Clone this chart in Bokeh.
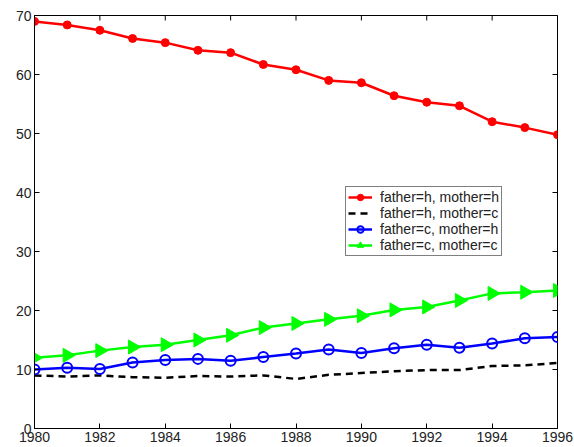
from bokeh.plotting import figure
from bokeh.models import LinearAxis, FixedTicker, Range1d
from bokeh.embed import file_html
from bokeh.resources import INLINE
import math

years = list(range(1980, 1997))
hh = [69.0, 68.4, 67.5, 66.1, 65.4, 64.1, 63.7, 61.7, 60.8, 59.0, 58.6, 56.4, 55.3, 54.7, 52.0, 51.0, 49.8]
hc = [9.0, 8.8, 9.0, 8.7, 8.6, 8.9, 8.8, 9.0, 8.4, 9.1, 9.4, 9.7, 9.9, 9.9, 10.6, 10.7, 11.1]
ch = [10.0, 10.3, 10.1, 11.2, 11.6, 11.8, 11.5, 12.1, 12.7, 13.4, 12.8, 13.6, 14.2, 13.7, 14.4, 15.3, 15.5]
cc = [12.0, 12.4, 13.2, 13.8, 14.2, 15.0, 15.8, 17.1, 17.8, 18.5, 19.1, 20.1, 20.6, 21.7, 22.9, 23.1, 23.4]
labels = ["father=h, mother=h", "father=h, mother=c", "father=c, mother=h", "father=c, mother=c"]
xticks = list(range(1980, 1997, 2))
yticks = list(range(0, 71, 10))
x_min, x_max = 1980, 1996
y_min, y_max = 0, 70

FONT = "Liberation Sans"
FS = "14px"

p = figure(width=574, height=447, x_range=Range1d(x_min, x_max), y_range=Range1d(y_min, y_max),
           output_backend="svg", toolbar_location=None,
           min_border_left=34, min_border_right=17, min_border_top=15, min_border_bottom=19,
           x_axis_location=None, y_axis_location=None)
p.xgrid.visible = False
p.ygrid.visible = False
p.outline_line_color = "black"
p.outline_line_width = 1
p.background_fill_color = "white"
p.border_fill_color = "white"

def mk_axis(ticks):
    ax = LinearAxis(ticker=FixedTicker(ticks=ticks))
    ax.major_tick_in = 5
    ax.major_tick_out = 0
    ax.minor_tick_in = 0
    ax.minor_tick_out = 0
    ax.axis_line_color = "black"
    ax.major_tick_line_color = "black"
    ax.major_label_text_font = FONT
    ax.major_label_text_color = "#222222"
    ax.major_label_text_font_size = FS
    ax.major_label_standoff = 3
    return ax

p.add_layout(mk_axis(xticks), "below")
p.add_layout(mk_axis(yticks), "left")

# mirrored inward ticks on top and right edges (clipped half of a dash marker)
p.scatter([x_max] * len(yticks), yticks, marker="dash", size=10, line_color="black", line_width=1)
p.scatter(xticks, [y_max] * len(xticks), marker="dash", size=10, angle=math.pi / 2,
          line_color="black", line_width=1)

p.line(years, hh, line_color="red", line_width=2.5, legend_label=labels[0])
p.scatter(years, hh, marker="circle", size=8, fill_color="red", line_color="red", legend_label=labels[0])

p.line(years, hc, line_color="black", line_width=2.5, line_dash="7 5", legend_label=labels[1])

p.line(years, ch, line_color="blue", line_width=2.5, legend_label=labels[2])
p.scatter(years, ch, marker="circle", size=10, fill_color=None, line_color="blue", line_width=2, legend_label=labels[2])

p.line(years, cc, line_color="#00ff00", line_width=2.5, legend_label=labels[3])
p.scatter(years, cc, marker="triangle", size=14, angle=-math.pi / 2, fill_color="#00ff00",
          line_color="#00ff00", legend_label=labels[3])

lg = p.legend[0]
lg.location = (311, 172)
lg.border_line_color = "black"
lg.border_line_width = 1
lg.background_fill_alpha = 1
lg.padding = 2
lg.spacing = 0
lg.margin = 0
lg.glyph_width = 24
lg.glyph_height = 16
lg.label_standoff = 8
lg.label_height = 16
lg.label_text_font = FONT
lg.label_text_font_size = FS
lg.label_text_color = "#222222"
lg.label_text_baseline = "middle"

open("out.html", "w").write(file_html(p, INLINE))
